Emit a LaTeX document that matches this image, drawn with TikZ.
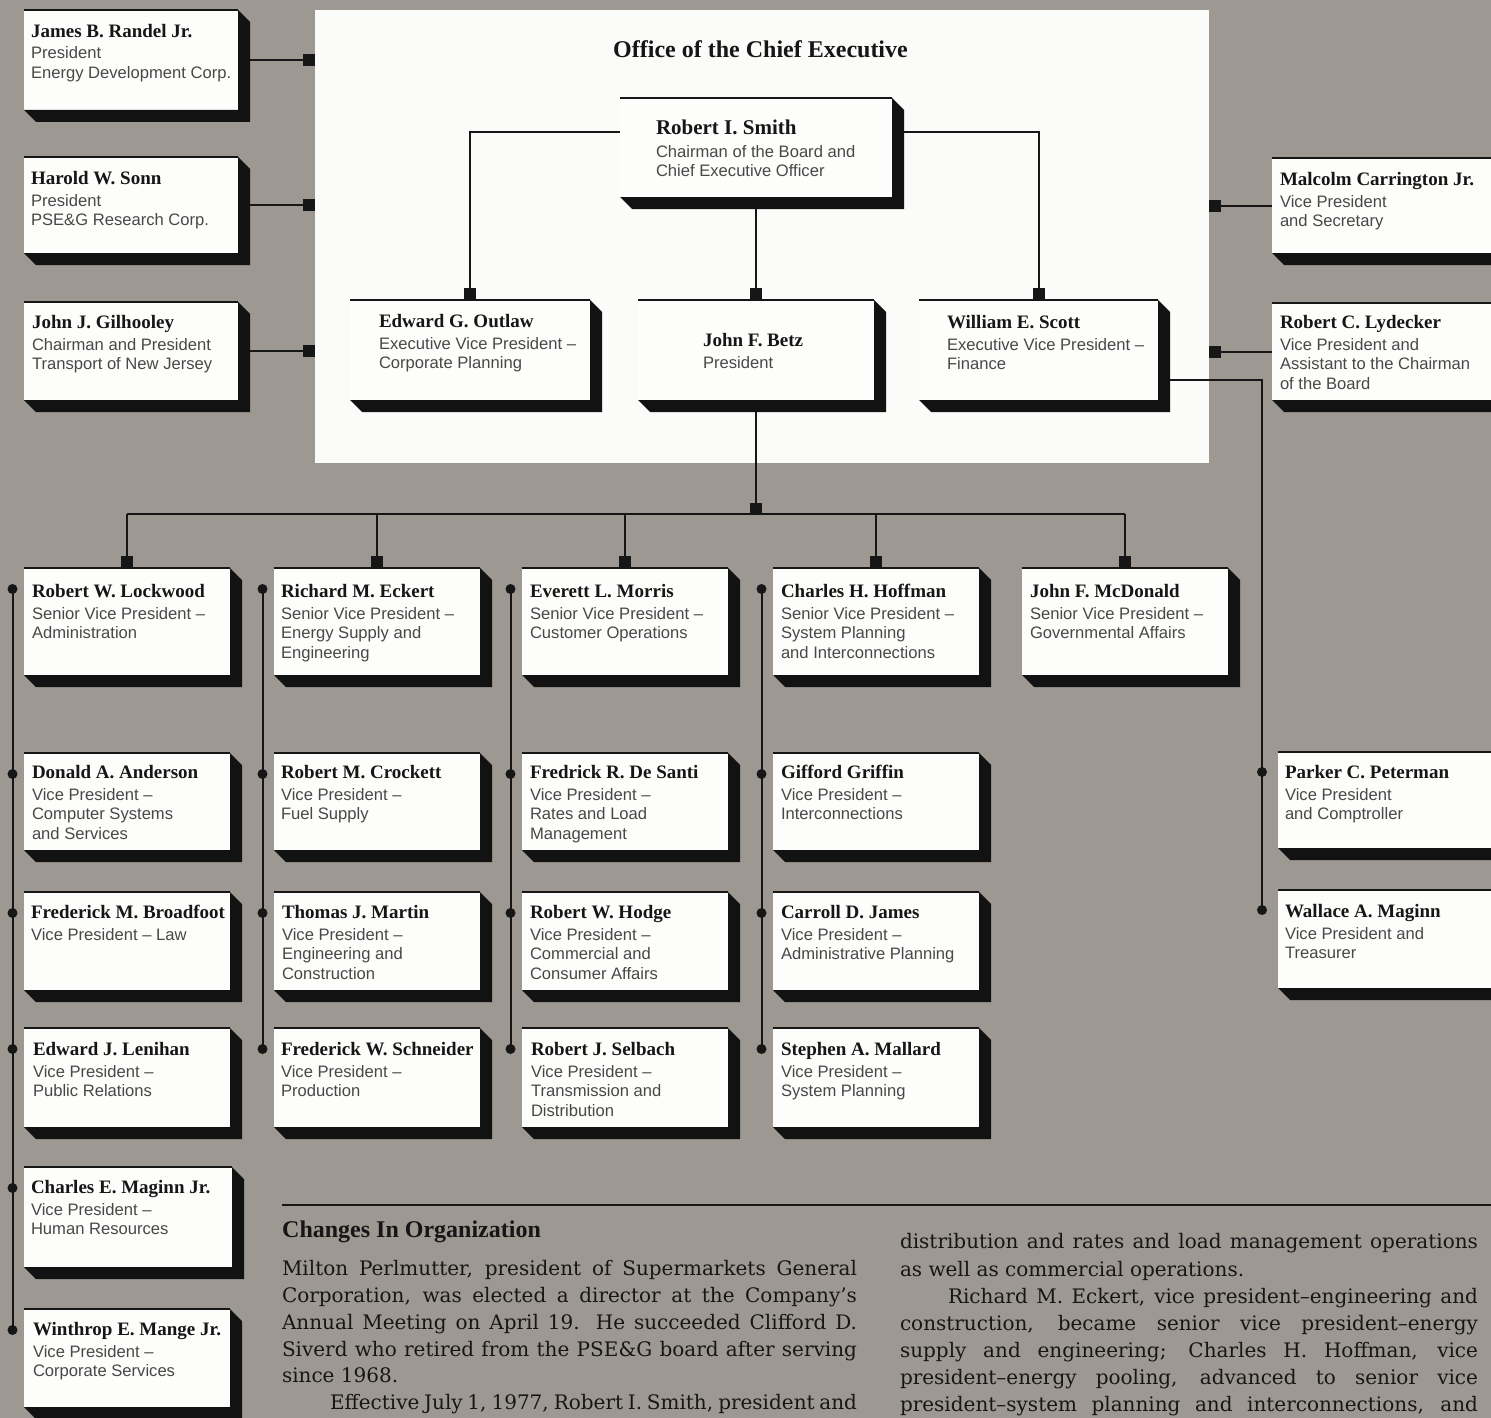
\documentclass[tikz,border=0pt]{standalone}
\usepackage{fontspec}
\setmainfont{Liberation Serif}
\newfontfamily\sansf{Liberation Sans}
\newfontfamily\bodyf{DejaVu Serif}
\definecolor{bgc}{HTML}{9E9892}
\definecolor{panelc}{HTML}{FBFBF9}
\definecolor{boxc}{HTML}{FDFDFB}
\definecolor{inkc}{HTML}{161616}
\definecolor{subc}{HTML}{484848}
\definecolor{shc}{HTML}{121212}
\pgfdeclarelayer{back}
\pgfdeclarelayer{wires}
\pgfsetlayers{back,wires,main}
\newcommand\nm[1]{{\rmfamily\bfseries\fontsize{19}{21}\selectfont\color{inkc}#1}}
\newcommand\nmL[1]{{\rmfamily\bfseries\fontsize{21}{23}\selectfont\color{inkc}#1}}
\tikzset{
  x=1pt, y=-1pt,
  obox/.style={rectangle, fill=boxc, inner sep=0pt, outer sep=0pt, anchor=north west},
  txt/.style={anchor=north west, inner sep=0pt, outer sep=0pt, align=left,
    font=\sansf\fontsize{16.6}{19.5}\selectfont, text=subc},
  wire/.style={draw=inkc, line width=2pt},
  sq/.style={rectangle, fill=inkc, minimum size=12pt, inner sep=0pt, outer sep=0pt},
  dotn/.style={circle, fill=inkc, minimum size=10pt, inner sep=0pt, outer sep=0pt},
  para/.style={anchor=base west, inner sep=0pt, outer sep=0pt,
    font=\bodyf\fontsize{20}{27}\selectfont, text=inkc},
}
% #1 inset, #2 name, #3 x, #4 y, #5 w, #6 h, #7 text top offset, #8 text
\newcommand\obox[8][7]{%
  \node[obox, minimum width=#5pt, minimum height=#6pt] (#2) at (#3,#4) {};
  \fill[shc] (#2.north east) -- ++(12,12) -- ([shift={(12,12)}]#2.south east)
     -- ([shift={(12,12)}]#2.south west) -- (#2.south west) -- (#2.south east) -- cycle;
  \draw[inkc, line width=1.5pt] (#2.north west) -- (#2.north east);
  \node[txt] (#2-t) at ([shift={(#1,#7)}]#2.north west) {#8};
}
\begin{document}
\begin{tikzpicture}
\useasboundingbox (0,0) rectangle (1491,1418);
\begin{pgfonlayer}{back}
  \fill[bgc] (0,0) rectangle (1491,1418);
  \node[rectangle, fill=panelc, inner sep=0pt, outer sep=0pt, anchor=north west,
        minimum width=894pt, minimum height=453pt] (panel) at (315,10) {};
\end{pgfonlayer}
\node[anchor=base, inner sep=0pt, font=\rmfamily\bfseries\fontsize{24}{28}\selectfont, text=inkc]
  (title) at (760.5,58) {Office of the Chief Executive};

% subsidiaries (left)
\obox[7]{randel}{24}{10}{214}{100}{14}{\nm{James B. Randel Jr.}\\[2pt]President\\Energy Development Corp.}
\obox[7]{sonn}{24}{157}{214}{96}{14.5}{\nm{Harold W. Sonn}\\[2pt]President\\PSE\&G Research Corp.}
\obox[8]{gilhooley}{24}{302}{214}{98}{13.5}{\nm{John J. Gilhooley}\\[2pt]Chairman and President\\Transport of New Jersey}

% office of the chief executive
\obox[36]{smith}{620}{98}{272}{99}{21.5}{\nmL{Robert I. Smith}\\[3.5pt]Chairman of the Board and\\Chief Executive Officer}
\obox[29]{outlaw}{350}{300}{240}{100}{14.5}{\nm{Edward G. Outlaw}\\[2pt]Executive Vice President –\\Corporate Planning}
\obox[65]{betz}{638}{300}{236}{100}{33.5}{\nm{John F. Betz}\\[2pt]President}
\obox[28]{scott}{919}{300}{239}{100}{15.5}{\nm{William E. Scott}\\[2pt]Executive Vice President –\\Finance}

% right side
\obox[8]{carrington}{1272}{158}{232}{95}{14.5}{\nm{Malcolm Carrington Jr.}\\[2pt]Vice President\\and Secretary}
\obox[8]{lydecker}{1272}{303}{232}{97}{12.5}{\nm{Robert C. Lydecker}\\[2pt]Vice President and\\Assistant to the Chairman\\of the Board}
\obox[7]{peterman}{1278}{752}{226}{96}{13.5}{\nm{Parker C. Peterman}\\[2pt]Vice President\\and Comptroller}
\obox[7]{wmaginn}{1278}{890}{226}{98}{14.5}{\nm{Wallace A. Maginn}\\[2pt]Vice President and\\Treasurer}

% row 1
\obox[8]{lockwood}{24}{568}{206}{107}{16.5}{\nm{Robert W. Lockwood}\\[2pt]Senior Vice President –\\Administration}
\obox[7]{eckert}{274}{568}{206}{107}{16.5}{\nm{Richard M. Eckert}\\[2pt]Senior Vice President –\\Energy Supply and\\Engineering}
\obox[8]{morris}{522}{568}{206}{107}{16.5}{\nm{Everett L. Morris}\\[2pt]Senior Vice President –\\Customer Operations}
\obox[8]{hoffman}{773}{568}{206}{107}{16.5}{\nm{Charles H. Hoffman}\\[2pt]Senior Vice President –\\System Planning\\and Interconnections}
\obox[8]{mcdonald}{1022}{568}{206}{107}{16.5}{\nm{John F. McDonald}\\[2pt]Senior Vice President –\\Governmental Affairs}
% row 2
\obox[8]{anderson}{24}{753}{206}{97}{12.5}{\nm{Donald A. Anderson}\\[2pt]Vice President –\\Computer Systems\\and Services}
\obox[7]{crockett}{274}{753}{206}{97}{12.5}{\nm{Robert M. Crockett}\\[2pt]Vice President –\\Fuel Supply}
\obox[8]{desanti}{522}{753}{206}{97}{12.5}{\nm{Fredrick R. De Santi}\\[2pt]Vice President –\\Rates and Load\\Management}
\obox[8]{griffin}{773}{753}{206}{97}{12.5}{\nm{Gifford Griffin}\\[2pt]Vice President –\\Interconnections}
% row 3
\obox[7]{broadfoot}{24}{892}{206}{98}{13.5}{\nm{Frederick M. Broadfoot}\\[2pt]Vice President – Law}
\obox[8]{martin}{274}{892}{206}{98}{13.5}{\nm{Thomas J. Martin}\\[2pt]Vice President –\\Engineering and\\Construction}
\obox[8]{hodge}{522}{892}{206}{98}{13.5}{\nm{Robert W. Hodge}\\[2pt]Vice President –\\Commercial and\\Consumer Affairs}
\obox[8]{james}{773}{892}{206}{98}{13.5}{\nm{Carroll D. James}\\[2pt]Vice President –\\Administrative Planning}
% row 4
\obox[9]{lenihan}{24}{1028}{206}{99}{14.5}{\nm{Edward J. Lenihan}\\[2pt]Vice President –\\Public Relations}
\obox[7]{schneider}{274}{1028}{206}{99}{14.5}{\nm{Frederick W. Schneider}\\[2pt]Vice President –\\Production}
\obox[9]{selbach}{522}{1028}{206}{99}{14.5}{\nm{Robert J. Selbach}\\[2pt]Vice President –\\Transmission and\\Distribution}
\obox[8]{mallard}{773}{1028}{206}{99}{14.5}{\nm{Stephen A. Mallard}\\[2pt]Vice President –\\System Planning}
% rows 5-6
\obox[7]{cmaginn}{24}{1167}{208}{100}{13.5}{\nm{Charles E. Maginn Jr.}\\[2pt]Vice President –\\Human Resources}
\obox[9]{mange}{24}{1309}{206}{98}{13.5}{\nm{Winthrop E. Mange Jr.}\\[2pt]Vice President –\\Corporate Services}

% squares and dots
\node[sq, anchor=east] (sq-randel) at (randel.east -| panel.west) {};
\node[sq, anchor=east] (sq-sonn) at (sonn.east -| panel.west) {};
\node[sq, anchor=east] (sq-gilhooley) at (gilhooley.east -| panel.west) {};
\node[sq, anchor=west] (sq-carrington) at (carrington.west -| panel.east) {};
\node[sq, anchor=west] (sq-lydecker) at (lydecker.west -| panel.east) {};
\node[sq, anchor=south] (sq-outlaw) at (outlaw.north) {};
\node[sq, anchor=south] (sq-betz) at (betz.north) {};
\node[sq, anchor=south] (sq-scott) at (scott.north) {};
\coordinate (busy) at (0,514);
\node[sq, anchor=south] (sq-bus) at ([yshift=-1pt]betz.south |- busy) {};
\foreach \b in {lockwood,eckert,morris,hoffman,mcdonald}{
  \node[sq, anchor=south] (sq-\b) at (\b.north) {};
}
\foreach \b in {lockwood,anderson,broadfoot,lenihan,cmaginn,mange,
                eckert,crockett,martin,schneider,
                morris,desanti,hodge,selbach,
                hoffman,griffin,james,mallard}{
  \node[dotn] (d-\b) at ([shift={(-11.5,21)}]\b.north west) {};
}
\node[dotn] (d-peterman) at ([shift={(-16,20)}]peterman.north west) {};
\node[dotn] (d-wmaginn) at ([shift={(-16,20)}]wmaginn.north west) {};

\begin{pgfonlayer}{wires}
  \draw[wire] (randel.east) -- (sq-randel);
  \draw[wire] (sonn.east) -- (sq-sonn);
  \draw[wire] (gilhooley.east) -- (sq-gilhooley);
  \draw[wire] (carrington.west) -- (sq-carrington);
  \draw[wire] (lydecker.west) -- (sq-lydecker);
  \draw[wire] ([yshift=15.5pt]smith.west) -| (sq-outlaw);
  \draw[wire] ([yshift=15.5pt]smith.east) -| (sq-scott);
  \draw[wire] (smith.south) -- (sq-betz);
  \draw[wire] (betz.south) -- (betz.south |- busy);
  \draw[wire] (lockwood.north |- busy) -- (mcdonald.north |- busy);
  \foreach \b in {lockwood,eckert,morris,hoffman,mcdonald}{
    \draw[wire] (\b.north |- busy) -- (sq-\b);
  }
  \draw[wire] (d-lockwood.center) -- (d-mange.center);
  \draw[wire] (d-eckert.center) -- (d-schneider.center);
  \draw[wire] (d-morris.center) -- (d-selbach.center);
  \draw[wire] (d-hoffman.center) -- (d-mallard.center);
  \draw[wire] ([yshift=-30pt]scott.east) -| (d-wmaginn.center);
\end{pgfonlayer}

% text block
\draw[inkc, line width=2pt] (282,1205) -- (1491,1205);
\node[anchor=base west, inner sep=0pt, font=\rmfamily\bfseries\fontsize{24}{28}\selectfont, text=inkc]
  (chg) at (282,1237) {Changes In Organization};
\node[para] (l1) at (282,1275) {\makebox[575pt][s]{Milton Perlmutter, president of Supermarkets General}};
\node[para] (l2) at (282,1302) {\makebox[575pt][s]{Corporation, was elected a director at the Company’s}};
\node[para] (l3) at (282,1329) {\makebox[575pt][s]{Annual Meeting on April 19. He succeeded Clifford D.}};
\node[para] (l4) at (282,1356) {\makebox[575pt][s]{Siverd who retired from the PSE\&G board after serving}};
\node[para] (l5) at (282,1382) {since 1968.};
\node[para] (l6) at (330,1409) {\makebox[527pt][s]{Effective July 1, 1977, Robert I. Smith, president and}};
\node[para] (r1) at (900,1248) {\makebox[578pt][s]{distribution and rates and load management operations}};
\node[para] (r2) at (900,1276) {as well as commercial operations.};
\node[para] (r3) at (948,1303) {\makebox[530pt][s]{Richard M. Eckert, vice president–engineering and}};
\node[para] (r4) at (900,1330) {\makebox[578pt][s]{construction, became senior vice president–energy}};
\node[para] (r5) at (900,1357) {\makebox[578pt][s]{supply and engineering; Charles H. Hoffman, vice}};
\node[para] (r6) at (900,1384) {\makebox[578pt][s]{president–energy pooling, advanced to senior vice}};
\node[para] (r7) at (900,1411) {\makebox[578pt][s]{president–system planning and interconnections, and}};
\end{tikzpicture}
\end{document}
